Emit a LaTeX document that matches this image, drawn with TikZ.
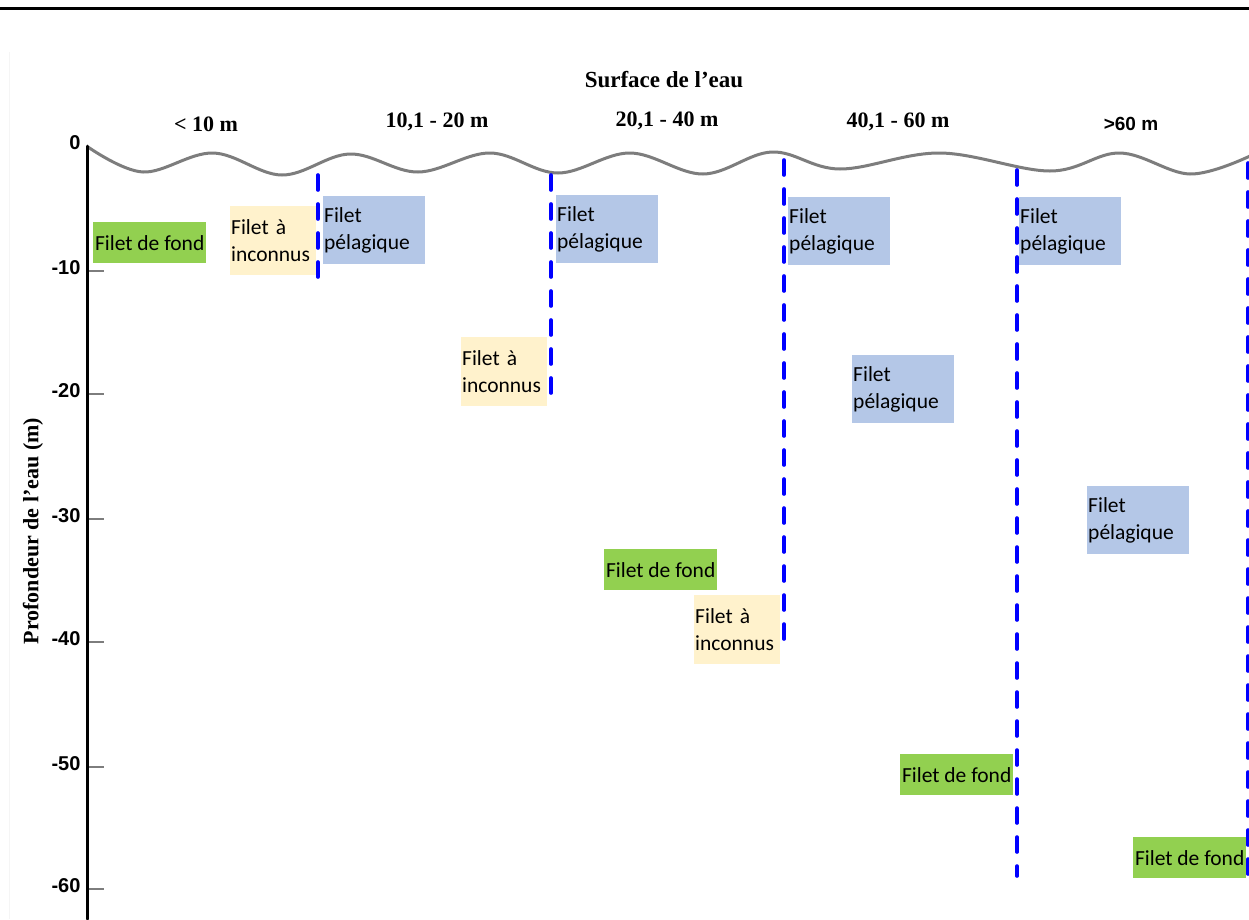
\documentclass[tikz,border=0pt]{standalone}
\usepackage{fontspec}
\setmainfont{Liberation Serif}
\newfontfamily\calib{Carlito}
\newfontfamily\arialf{Liberation Sans}
\usepackage{pgf,tikz}
\usepackage{tkz-euclide}
\usepackage{xcolor}
\usetikzlibrary{arrows, calc}
\definecolor{fondvert}{RGB}{146,208,80}
\definecolor{inconnujaune}{RGB}{255,242,204}
\definecolor{pelagbleu}{RGB}{180,199,231}
\definecolor{vaguegris}{RGB}{125,125,125}

\begin{document}
\begin{tikzpicture}[x=1pt,y=-1pt,
    filet/.style={anchor=north west, inner xsep=1pt, inner ysep=0pt, align=left,
      font={\calib\fontsize{21.5}{26.5}\selectfont}},
    fond/.style={filet, fill=fondvert, minimum width=113pt, minimum height=41pt},
    inconnu/.style={filet, fill=inconnujaune, text width=84pt, minimum height=69pt},
    pelag/.style={filet, fill=pelagbleu, text width=100pt, minimum height=68pt},
    zone/.style={anchor=base, font={\bfseries\fontsize{22}{22}\selectfont}},
    graduation/.style={anchor=east, font={\arialf\bfseries\fontsize{20}{20}\selectfont}},
    filin/.style={draw=blue, line width=3.6pt, dash pattern=on 15pt off 14pt}]
    \useasboundingbox (0,0) rectangle (1249,919);
    \tkzDefPoint(0,8.5){t_1}
    \tkzDefPoint(1249,8.5){t_2}
    \tkzDrawSegments[line width=3pt, black](t_1,t_2)
    \draw[gray!8, line width=1pt] (9.5,52) -- (9.5,919);
    % surface
    \node[font={\bfseries\fontsize{23}{23}\selectfont}, anchor=base] (surf) at (664,87) {Surface de l’eau};
    \node[zone] (z1) at (206,131) {< 10 m};
    \node[zone] (z2) at (437,127) {10,1 - 20 m};
    \node[zone] (z3) at (667,126) {20,1 - 40 m};
    \node[zone] (z4) at (898,127) {40,1 - 60 m};
    \node[zone, font={\arialf\bfseries\fontsize{19}{19}\selectfont}] (z5) at (1131,130) {>60 m};
    \draw[vaguegris, line width=3pt] plot[smooth, tension=0.6] coordinates {(88,147) (143,172) (213,153) (282,175) (350,154) (418,172) (490,153) (558,173) (630,153) (703,174) (772,152) (840,169) (940,153) (1050,171) (1120,153) (1190,174) (1250,156)};
    % axe
    \tkzDefPoint(87.5,146){a_0}
    \tkzDefPoint(87.5,919){a_1}
    \tkzDrawSegments[line width=3pt, black](a_0,a_1)
    \node[font={\bfseries\fontsize{22}{22}\selectfont}, rotate=90] (prof) at (33,531) {Profondeur de l’eau (m)};
    \node[graduation] (p0) at (84,143) {0};
    \foreach \d/\y in {-10/271,-20/394,-30/519,-40/642,-50/767,-60/889}{
      \draw[vaguegris, line width=2.5pt] (89,\y) -- (104,\y);
      \node[graduation] (p\d) at (84,\y-3) {\d};
    }
    % filets
    \node[fond] (fond1) at (93,222) {Filet de fond};
    \node[inconnu] (inc1) at (230,206) {Filet à\\inconnus};
    \node[pelag] (pel1) at (323,196) {Filet\\pélagique};
    \node[pelag] (pel2) at (556,195) {Filet\\pélagique};
    \node[inconnu] (inc2) at (461,337) {Filet à\\inconnus};
    \node[fond] (fond2) at (604,549) {Filet de fond};
    \node[inconnu] (inc3) at (694,595) {Filet à\\inconnus};
    \node[pelag] (pel3) at (788,197) {Filet\\pélagique};
    \node[pelag] (pel4) at (1019,197) {Filet\\pélagique};
    \node[pelag] (pel5) at (852,355) {Filet\\pélagique};
    \node[pelag] (pel6) at (1087,486) {Filet\\pélagique};
    \node[fond] (fond3) at (900,754) {Filet de fond};
    \node[fond] (fond4) at (1133,837) {Filet de fond};
    % limites
    \tkzDefPoint(318,175){h_1}
    \tkzDefPoint(318,278){b_1}
    \tkzDefPoint(551,175){h_2}
    \tkzDefPoint(551,396){b_2}
    \tkzDefPoint(784,160){h_3}
    \tkzDefPoint(784,639){b_3}
    \tkzDefPoint(1017,170){h_4}
    \tkzDefPoint(1017,876){b_4}
    \tkzDefPoint(1248,163){h_5}
    \tkzDefPoint(1248,880){b_5}
    \tkzDrawSegments[filin](h_1,b_1 h_2,b_2 h_3,b_3 h_4,b_4 h_5,b_5)
\end{tikzpicture}
\end{document}
